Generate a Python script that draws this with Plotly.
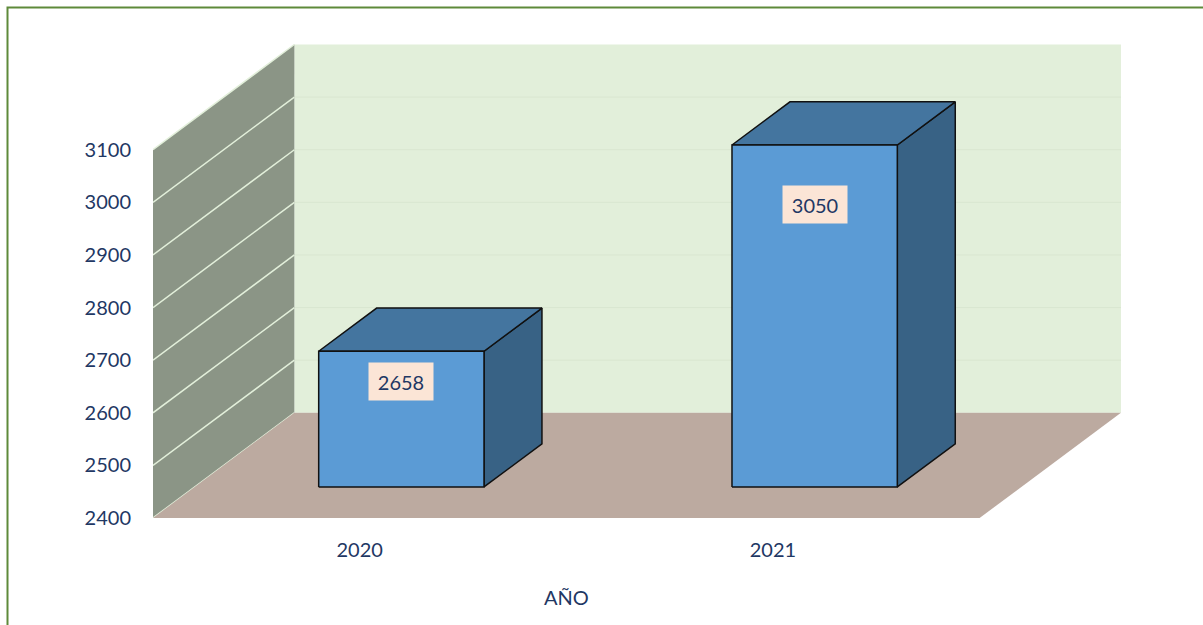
import plotly.graph_objects as go

# ---------------- data ----------------
categories = ["2020", "2021"]
values = [2658, 3050]
y_ticks = [2400, 2500, 2600, 2700, 2800, 2900, 3000, 3100]
x_title = "AÑO"

# ---------------- style / projection ----------------
Y_MIN, Y_MAX = 2400, 3100
KX = 0.342      # horizontal depth offset (category units) for full depth
KY = 200        # vertical depth offset (value units) for full depth
BAR_W = 0.4
Z0, Z1 = 0.295, 0.705

FONT = "Lato, Carlito, Calibri, sans-serif"
FS = 20
TXT = "#1F3864"
BACK = "#E2EFDA"
BACK_GRID = "#D9E6D0"
SIDE_WALL = "#8B9586"
WALL_GRID = "#E2EFDA"
FLOOR = "#BCAAA0"
FRONT = "#5B9BD5"
TOP = "#44759F"
SIDE = "#386285"
EDGE = "#111111"

L, R, T, B = 153, 58, 34, 107
W, H = 1203, 625
PW, PH = W - L - R, H - T - B

n = len(categories)
fig = go.Figure()


def poly(xs, ys, fill, line_color=None, lw=0):
    fig.add_trace(go.Scatter(
        x=list(xs) + [xs[0]], y=list(ys) + [ys[0]],
        mode="lines", fill="toself", fillcolor=fill,
        line=dict(color=line_color or fill, width=lw),
        hoverinfo="skip", showlegend=False))


def seg(xs, ys, color, lw):
    fig.add_trace(go.Scatter(x=xs, y=ys, mode="lines",
                             line=dict(color=color, width=lw),
                             hoverinfo="skip", showlegend=False))


# back wall
poly([KX, n + KX, n + KX, KX],
     [Y_MIN + KY, Y_MIN + KY, Y_MAX + KY, Y_MAX + KY], BACK)
for v in y_ticks[1:-1]:
    seg([KX, n + KX], [v + KY, v + KY], BACK_GRID, 1)

# left wall
poly([0, 0, KX, KX], [Y_MIN, Y_MAX, Y_MAX + KY, Y_MIN + KY], SIDE_WALL)
for v in y_ticks:
    seg([0, KX], [v, v + KY], WALL_GRID, 1.5)

# floor
poly([0, n, n + KX, KX], [Y_MIN, Y_MIN, Y_MIN + KY, Y_MIN + KY], FLOOR)

# bars
for i, v in enumerate(values):
    c = i + 0.5
    xl, xr = c - BAR_W / 2, c + BAR_W / 2
    # side face
    poly([xr + Z0 * KX, xr + Z1 * KX, xr + Z1 * KX, xr + Z0 * KX],
         [Y_MIN + Z0 * KY, Y_MIN + Z1 * KY, v + Z1 * KY, v + Z0 * KY],
         SIDE, EDGE, 1.5)
    # top face
    poly([xl + Z0 * KX, xr + Z0 * KX, xr + Z1 * KX, xl + Z1 * KX],
         [v + Z0 * KY, v + Z0 * KY, v + Z1 * KY, v + Z1 * KY],
         TOP, EDGE, 1.5)
    # front face
    poly([xl + Z0 * KX, xr + Z0 * KX, xr + Z0 * KX, xl + Z0 * KX],
         [Y_MIN + Z0 * KY, Y_MIN + Z0 * KY, v + Z0 * KY, v + Z0 * KY],
         FRONT, EDGE, 1.5)
    # data label
    fig.add_annotation(
        x=c + Z0 * KX, xref="x",
        y=Y_MIN + 0.86 * (v - Y_MIN) + Z0 * KY, yref="y",
        yshift=-11.6, text=str(v), showarrow=False,
        bgcolor="#FBE5D6", width=64, height=37, borderpad=0,
        font=dict(family=FONT, size=FS, color=TXT))

# axis title
fig.add_annotation(x=n / 2, xref="x", y=0, yref="paper", yshift=-79,
                   text=x_title, showarrow=False, yanchor="middle",
                   font=dict(family=FONT, size=FS, color=TXT))


# page border (decoration)
def px_x(p):
    return (p - L) / PW


def px_y(p):
    return (H - B - p) / PH


fig.add_shape(type="rect", xref="paper", yref="paper",
              x0=px_x(7.5), x1=px_x(1215), y0=px_y(640), y1=px_y(7.5),
              line=dict(color="#5E8A3A", width=2), fillcolor="rgba(0,0,0,0)",
              layer="above")

fig.update_layout(
    width=W, height=H,
    margin=dict(l=L, r=R, t=T, b=B, autoexpand=False),
    paper_bgcolor="white", plot_bgcolor="white",
    showlegend=False,
    xaxis=dict(range=[0, PW / 413.3], tickvals=[i + 0.5 for i in range(n)],
               ticktext=categories, showgrid=False, zeroline=False,
               showline=False, ticks="", ticklabelstandoff=18,
               tickfont=dict(family=FONT, size=FS, color=TXT),
               fixedrange=True),
    yaxis=dict(range=[Y_MIN, Y_MIN + PH / 0.5261], tickvals=y_ticks,
               showgrid=False, zeroline=False, showline=False, ticks="",
               ticklabelstandoff=21,
               tickfont=dict(family=FONT, size=FS, color=TXT),
               fixedrange=True),
)

fig.write_html(
    "out.html",
    config={"displayModeBar": False},
    post_script="document.body.style.margin='0px';"
                "document.body.style.overflow='hidden';",
)
